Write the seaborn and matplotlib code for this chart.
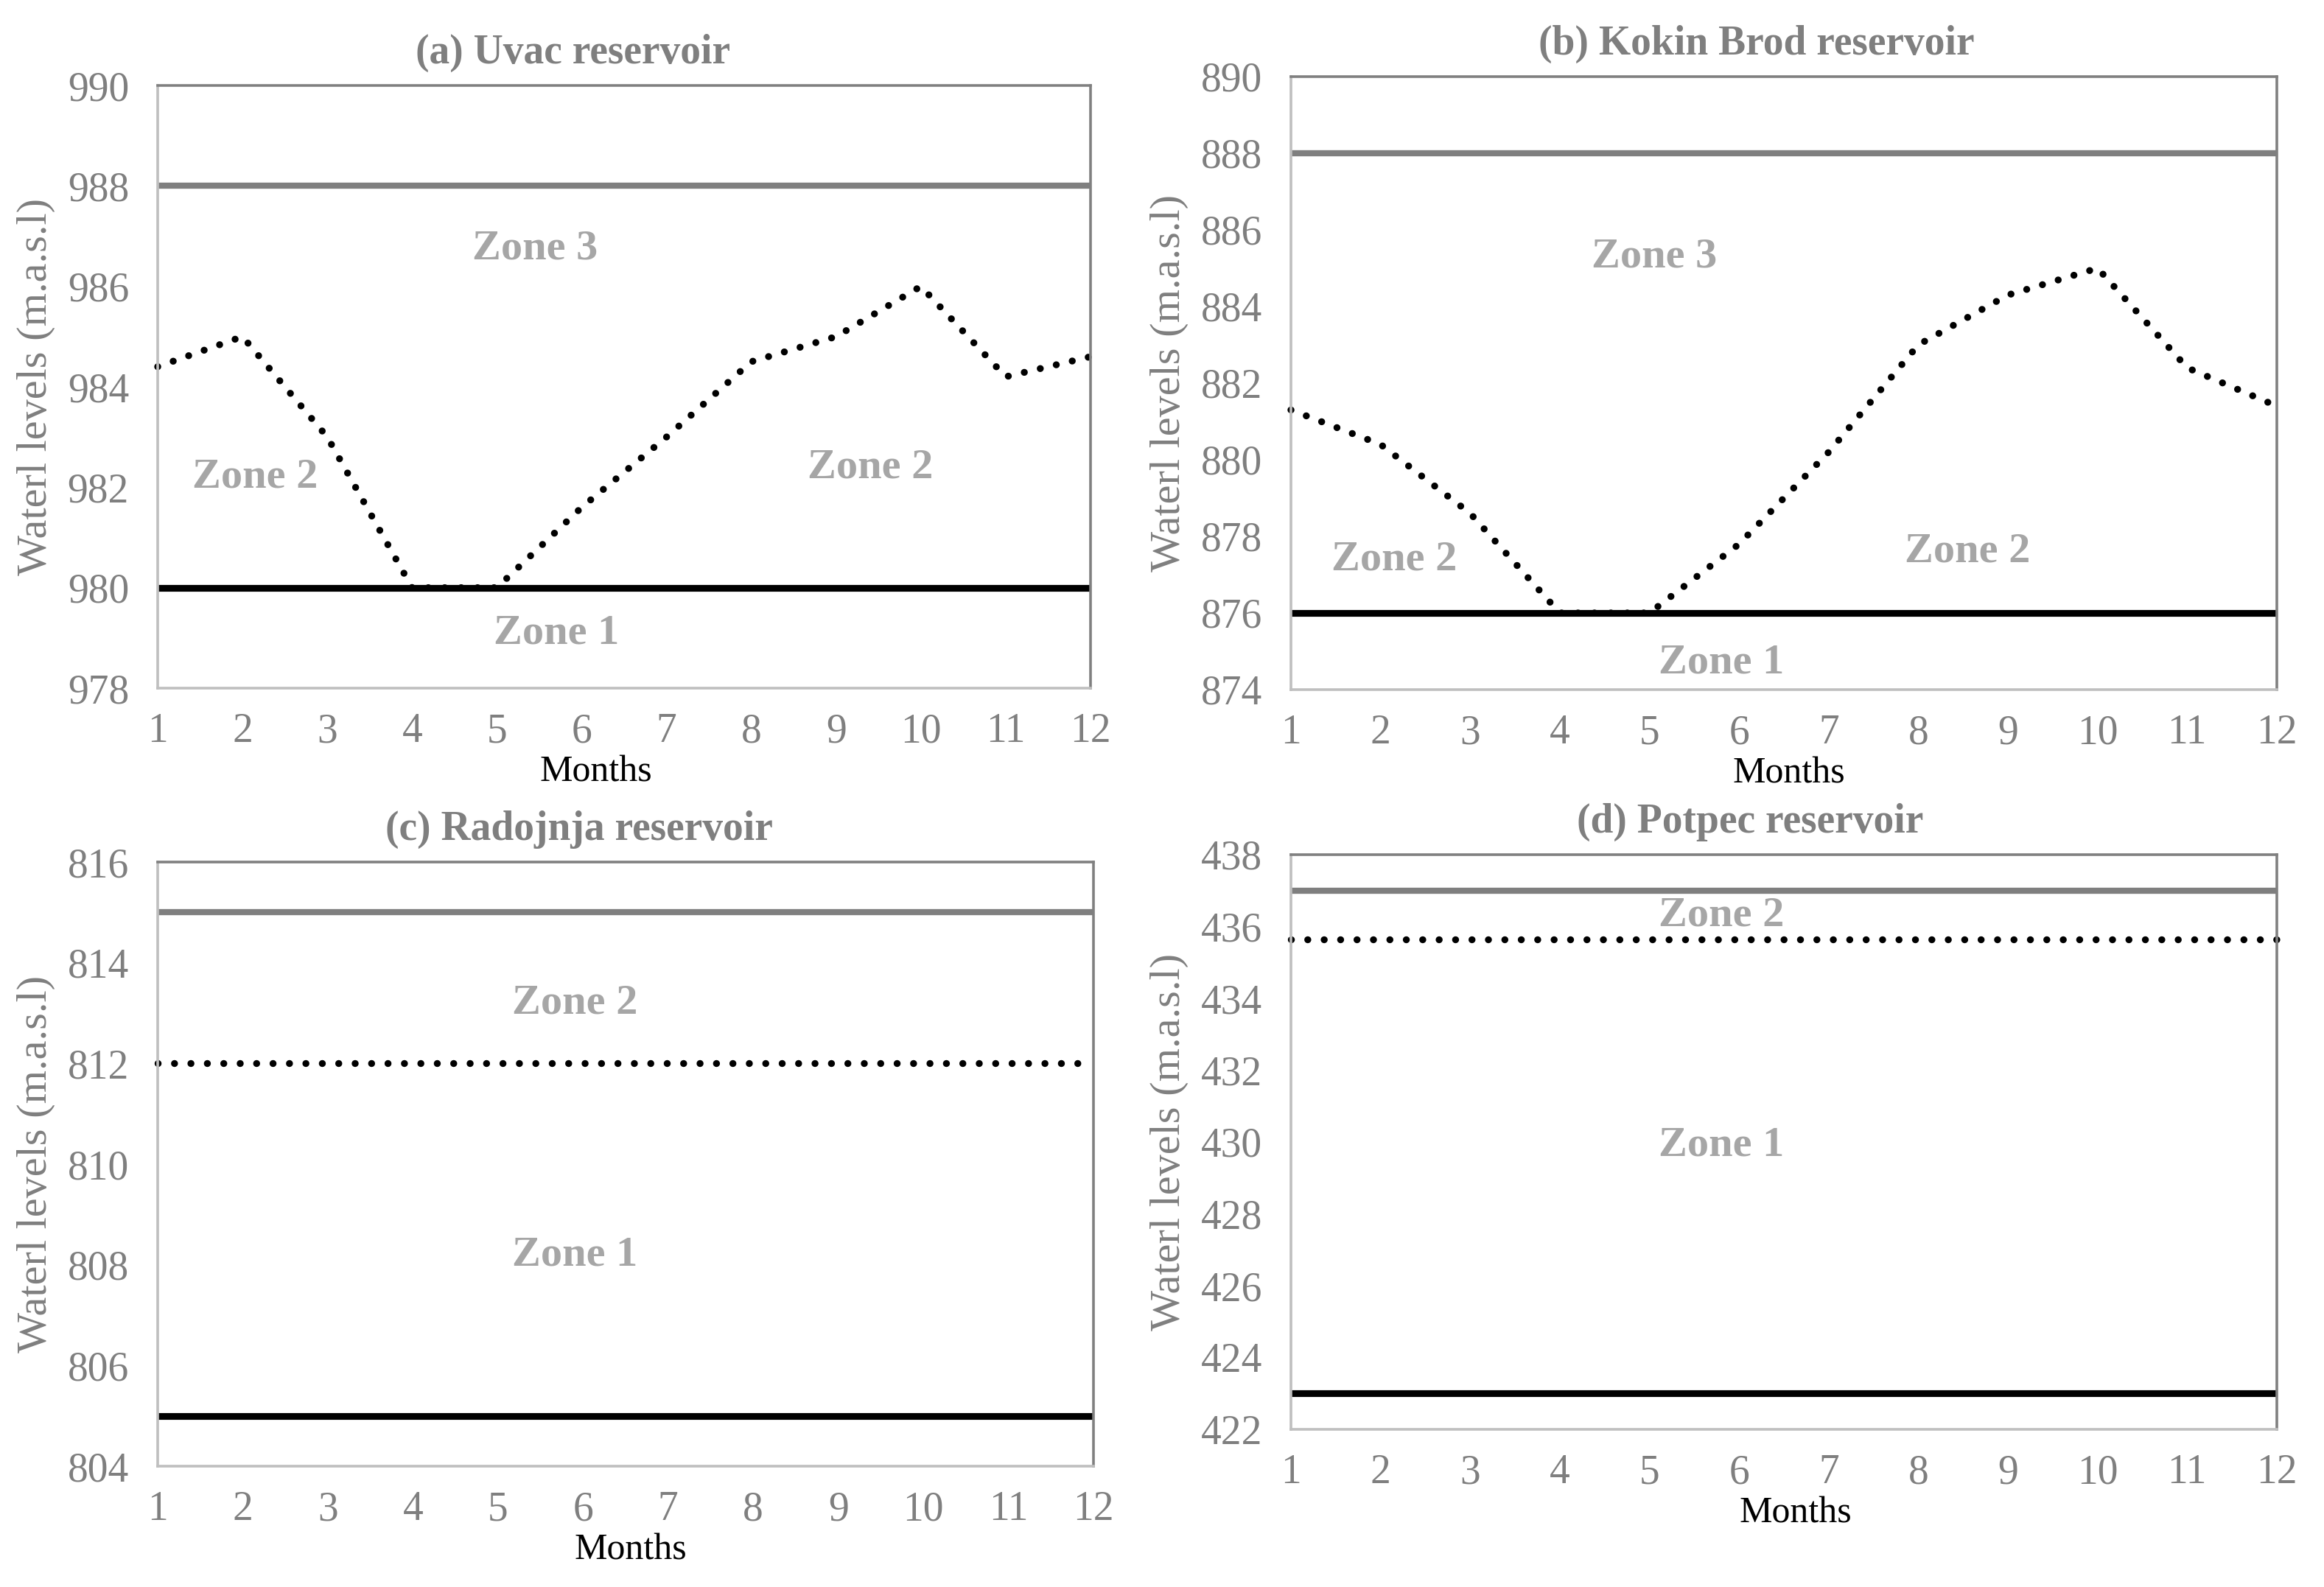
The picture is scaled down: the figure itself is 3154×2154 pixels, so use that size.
import numpy as np
import pandas as pd
import matplotlib
matplotlib.use("Agg")
import matplotlib.pyplot as plt
import seaborn as sns

months = list(range(1, 13))

# (a) Uvac
uvac_level = [984.4, 985.0, 983.0, 980.0, 980.0, 981.6, 983.0, 984.5, 985.0, 986.0, 984.2, 984.6]
uvac_upper = 988.0
uvac_lower = 980.0

# (b) Kokin Brod
kokin_level = [881.3, 880.4, 878.6, 876.0, 876.0, 877.8, 880.2, 883.0, 884.3, 885.0, 882.4, 881.4]
kokin_upper = 888.0
kokin_lower = 876.0

# (c) Radojnja
radojnja_level = [812.0] * 12
radojnja_upper = 815.0
radojnja_lower = 805.0

# (d) Potpec
potpec_level = [435.65] * 12
potpec_upper = 437.0
potpec_lower = 423.0

titles = ["(a) Uvac reservoir", "(b) Kokin Brod reservoir",
          "(c) Radojnja reservoir", "(d) Potpec reservoir"]

sns.set_style("white")
plt.rcParams['font.family'] = ['Liberation Serif', 'DejaVu Serif']

fig = plt.figure(figsize=(15.77, 10.77), dpi=200)
W, H = 3154, 2154
boxes = [(214, 116, 1480, 934), (1752, 104, 3090, 936),
         (214, 1170, 1484, 1990), (1752, 1160, 3090, 1940)]
title_x = [0.445, 0.472, 0.45, 0.466]
months_x = [0.47, 0.505, 0.505, 0.512]

panels = [
    (uvac_level, uvac_upper, uvac_lower, (978, 990),
     [("Zone 3", 5.45, 986.75), ("Zone 2", 2.15, 982.2), ("Zone 2", 9.4, 982.4), ("Zone 1", 5.7, 979.1)]),
    (kokin_level, kokin_upper, kokin_lower, (874, 890),
     [("Zone 3", 5.05, 885.3), ("Zone 2", 2.15, 877.4), ("Zone 2", 8.55, 877.6), ("Zone 1", 5.8, 874.7)]),
    (radojnja_level, radojnja_upper, radojnja_lower, (804, 816),
     [("Zone 2", 5.9, 813.2), ("Zone 1", 5.9, 808.2)]),
    (potpec_level, potpec_upper, potpec_lower, (422, 438),
     [("Zone 2", 5.8, 436.3), ("Zone 1", 5.8, 429.9)]),
]

for i, (level, upper, lower, ylim, zones) in enumerate(panels):
    x0, y0, x1, y1 = boxes[i]
    ax = fig.add_axes([x0 / W, 1 - y1 / H, (x1 - x0) / W, (y1 - y0) / H])
    df = pd.DataFrame({"Month": months, "Level": level,
                       "Upper": [upper] * 12, "Lower": [lower] * 12})
    sns.lineplot(data=df, x="Month", y="Upper", ax=ax, color="#7f7f7f", lw=3.0,
                 solid_capstyle="butt", clip_on=False)
    sns.lineplot(data=df, x="Month", y="Lower", ax=ax, color="black", lw=3.3,
                 solid_capstyle="butt", clip_on=False)
    sns.lineplot(data=df, x="Month", y="Level", ax=ax, color="black", lw=3.4,
                 linestyle=(0, (0.01, 2.35)), dash_capstyle="round", clip_on=False)
    for txt, zx, zy in zones:
        ax.text(zx, zy, txt, ha="center", va="center", fontsize=21,
                fontweight="bold", color="#a6a6a6")
    ax.set_xlim(1, 12)
    ax.set_ylim(*ylim)
    ax.set_xticks(months)
    ax.set_yticks(np.arange(ylim[0], ylim[1] + 1, 2))
    ax.tick_params(axis="both", length=0, labelsize=20, labelcolor="#7f7f7f")
    ax.tick_params(axis="x", pad=12)
    ax.tick_params(axis="y", pad=14)
    ax.set_xlabel("Months", fontsize=18, color="black", labelpad=2, x=months_x[i])
    ax.set_ylabel("Waterl levels (m.a.s.l)", fontsize=21, color="#7f7f7f", labelpad=6)
    ax.set_title(titles[i], fontsize=20, fontweight="bold", color="#7f7f7f",
                 pad=11, x=title_x[i])
    ax.spines["top"].set_color("#808080")
    ax.spines["right"].set_color("#808080")
    ax.spines["left"].set_color("#bfbfbf")
    ax.spines["bottom"].set_color("#bfbfbf")
    for s in ax.spines.values():
        s.set_linewidth(1.3)

fig.savefig("out.png", dpi=200)
